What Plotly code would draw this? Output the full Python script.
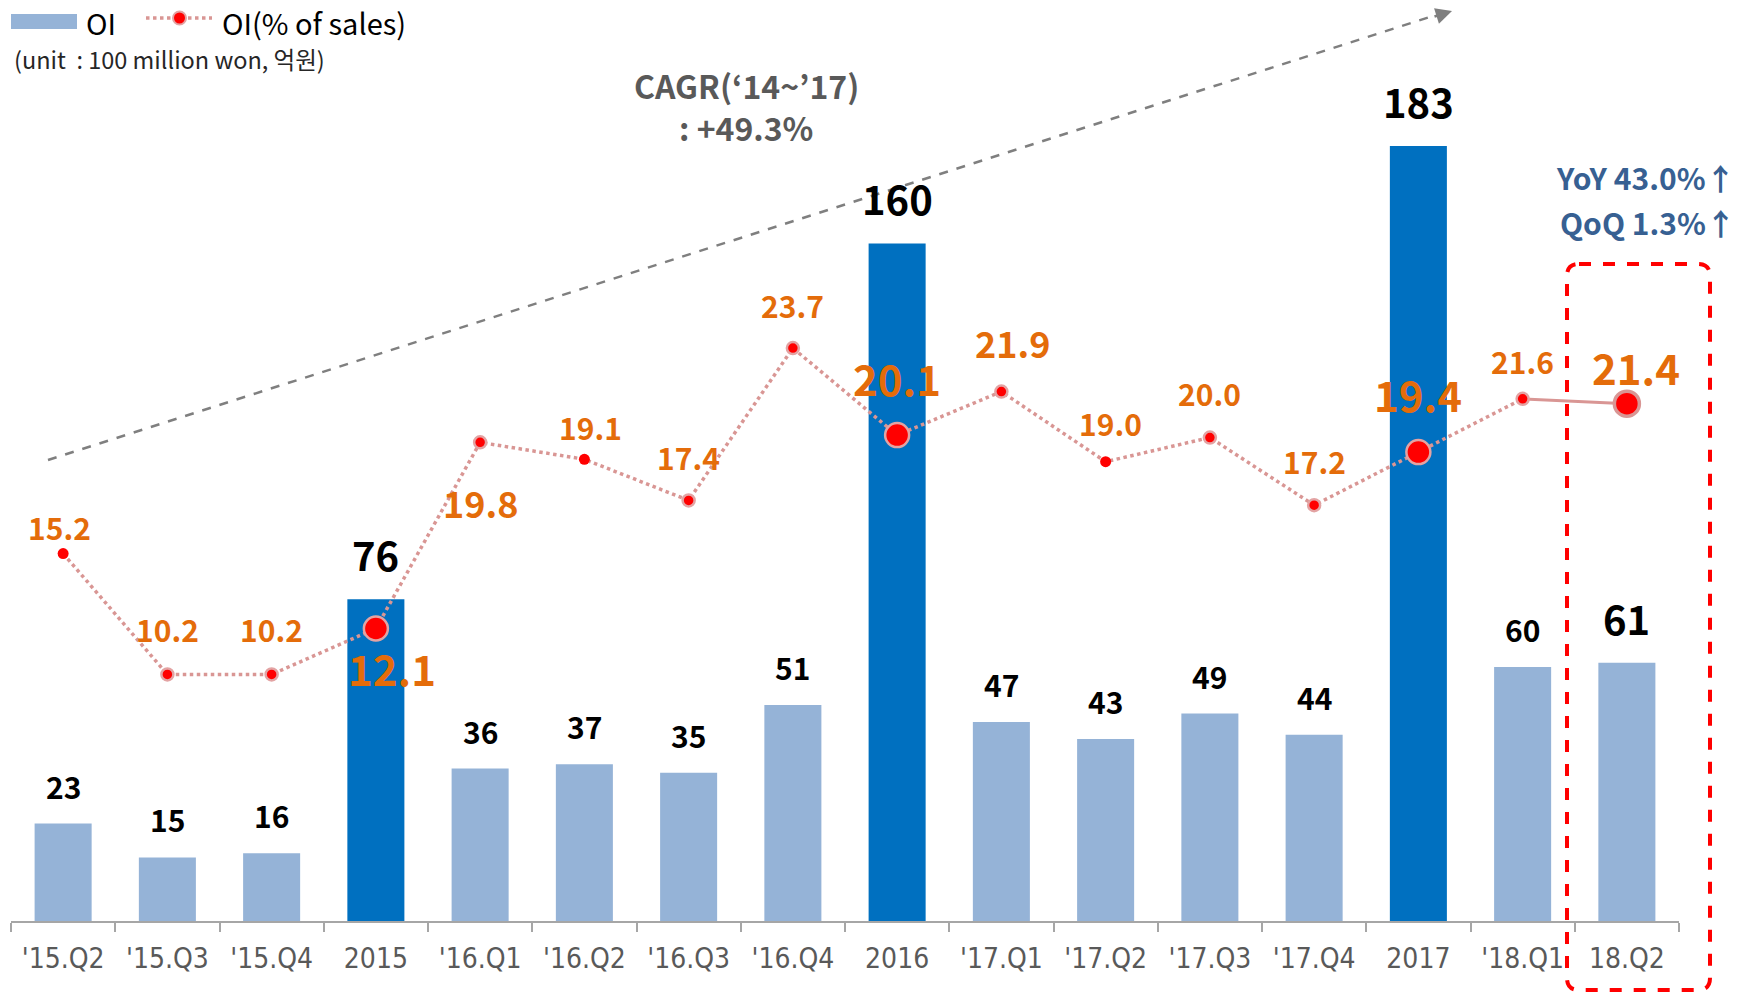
import plotly.graph_objects as go

# ---------------- data ----------------
categories = ["'15.Q2", "'15.Q3", "'15.Q4", "2015", "'16.Q1", "'16.Q2", "'16.Q3", "'16.Q4",
              "2016", "'17.Q1", "'17.Q2", "'17.Q3", "'17.Q4", "2017", "'18.Q1", "18.Q2"]
oi = [23, 15, 16, 76, 36, 37, 35, 51, 160, 47, 43, 49, 44, 183, 60, 61]
oi_pct = [15.2, 10.2, 10.2, 12.1, 19.8, 19.1, 17.4, 23.7, 20.1, 21.9, 19.0, 20.0, 17.2, 19.4, 21.6, 21.4]
annual = ["2015", "2016", "2017"]
plain_dot_points = ["'15.Q2", "'16.Q2", "'17.Q2"]
cagr_text = ["CAGR(‘14~’17)", ": +49.3%"]
growth_text = ["YoY 43.0%↑", "QoQ 1.3%↑"]
unit_text = "(unit\u00a0\u00a0: 100 million won, 억원)"
legend_names = ["OI", "OI(% of sales)"]

# ---------------- style ----------------
W, H = 1752, 994
L, R, T, B = 11, 73, 0, 73
PW, PH = W - L - R, H - T - B
FONT = "Noto Sans CJK KR, Noto Sans, DejaVu Sans, sans-serif"
NARROW = "Liberation Sans Narrow, DejaVu Sans Condensed, Noto Sans CJK KR, sans-serif"
LIGHT, DARK = "#95B3D7", "#0070C0"
ORANGE = "#E46C0A"
PINK = "#D99694"
RING = "#E3A3A3"
GRAY = "#595959"


def px(x):
    return (x - L) / PW


def py(y):
    return (T + PH - y) / PH


idx = list(range(len(categories)))
bar_colors = [DARK if c in annual else LIGHT for c in categories]

fig = go.Figure()
fig.add_trace(go.Bar(x=categories, y=oi, marker=dict(color=bar_colors, line=dict(width=0)),
                     name=legend_names[0], showlegend=False))

n_main = len(categories) - 1
# dotted line through quarters/years up to '18.Q1
fig.add_trace(go.Scatter(x=categories[:n_main], y=oi_pct[:n_main], yaxis="y2", mode="lines",
                         line=dict(color=PINK, width=3.5, dash="dot"), showlegend=False, hoverinfo="skip"))
# solid segment '18.Q1 -> 18.Q2
fig.add_trace(go.Scatter(x=categories[n_main - 1:], y=oi_pct[n_main - 1:], yaxis="y2", mode="lines",
                         line=dict(color=PINK, width=3), showlegend=False, hoverinfo="skip"))

groups = {"plain": ([], [], 11, 0), "ring": ([], [], 12, 2.5), "big": ([], [], 24, 2.5)}
for c, v in zip(categories[:n_main], oi_pct[:n_main]):
    key = "big" if c in annual else ("plain" if c in plain_dot_points else "ring")
    groups[key][0].append(c)
    groups[key][1].append(v)
for key, (xs, ys, sz, w) in groups.items():
    fig.add_trace(go.Scatter(x=xs, y=ys, yaxis="y2", mode="markers", opacity=1,
                             marker=dict(size=sz, color="#FF0000", opacity=1, line=dict(color=RING, width=w)),
                             name=legend_names[1], showlegend=False))
fig.add_trace(go.Scatter(x=categories[n_main:], y=oi_pct[n_main:], yaxis="y2", mode="markers", opacity=1,
                         marker=dict(size=25, color="#FF0000", opacity=1, line=dict(color=PINK, width=3.5)),
                         showlegend=False))

ann = []
# bar value labels
for i, c, v in zip(idx, categories, oi):
    big = c in annual or c == categories[-1]
    ann.append(dict(x=i, y=v, xref="x", yref="y", text=str(v), showarrow=False,
                    yanchor="middle", yshift=45 if big else 38,
                    font=dict(family=FONT, size=40 if big else 30, color="#000000", weight="bold")))

# percentage labels offsets (xshift, yshift) in px
pct_offsets = {"'15.Q2": (-4, 27), "'15.Q3": (0, 45), "'15.Q4": (0, 45), "2015": (16, -39),
               "'16.Q1": (0, -60), "'16.Q2": (6, 32), "'16.Q3": (0, 43), "'16.Q4": (0, 43),
               "2016": (0, 58), "'17.Q1": (11, 50), "'17.Q2": (5, 39), "'17.Q3": (0, 45),
               "'17.Q4": (0, 44), "2017": (0, 59), "'18.Q1": (0, 38), "18.Q2": (9, 37)}
pct_sizes = {"2015": 42, "2016": 42, "2017": 42, "18.Q2": 42, "'16.Q1": 36, "'17.Q1": 36}
for i, c, v in zip(idx, categories, oi_pct):
    dx, dy = pct_offsets[c]
    ann.append(dict(x=i, y=v, xref="x", yref="y2", text=f"{v:.1f}", showarrow=False,
                    yanchor="middle", xshift=dx, yshift=dy,
                    font=dict(family=FONT, size=pct_sizes.get(c, 30), color=ORANGE, weight="bold")))

# legend
LEG_Y = 22
ann.append(dict(x=px(84), y=py(LEG_Y), xref="paper", yref="paper", text=legend_names[0], showarrow=False,
                xanchor="left", yanchor="middle", font=dict(family=FONT, size=29, color="#000000")))
ann.append(dict(x=px(220), y=py(LEG_Y), xref="paper", yref="paper", text=legend_names[1], showarrow=False,
                xanchor="left", yanchor="middle", font=dict(family=FONT, size=29, color="#000000")))
ann.append(dict(x=px(12), y=py(59), xref="paper", yref="paper", text=unit_text, showarrow=False,
                xanchor="left", yanchor="middle", font=dict(family=FONT, size=23.5, color="#262626")))

# CAGR
for i, t in enumerate(cagr_text):
    ann.append(dict(x=px(746), y=py(85 + 42 * i), xref="paper", yref="paper", text=t,
                    showarrow=False, xanchor="center", yanchor="middle",
                    font=dict(family=FONT, size=32, color=GRAY, weight="bold")))
# YoY / QoQ
for i, t in enumerate(growth_text):
    ann.append(dict(x=px(1738), y=py(177 + 45 * i), xref="paper", yref="paper", text=t,
                    showarrow=False, xanchor="right", yanchor="middle",
                    font=dict(family=FONT, size=30, color="#376092", weight="bold")))

# arrow head
ann.append(dict(x=px(1452), y=py(11), xref="paper", yref="paper", text="", showarrow=True,
                ax=-19, ay=6, arrowhead=2, arrowsize=1.3, arrowwidth=2.5, arrowcolor="#7F7F7F", standoff=0))

shapes = []
shapes.append(dict(type="line", xref="paper", yref="paper", x0=px(48), y0=py(460), x1=px(1436), y1=py(15),
                   line=dict(color="#7F7F7F", width=2.5, dash="dash")))
# legend swatches
shapes.append(dict(type="rect", xref="paper", yref="paper", x0=px(11), x1=px(77), y0=py(LEG_Y + 7),
                   y1=py(LEG_Y - 8), fillcolor=LIGHT, line=dict(width=0)))
shapes.append(dict(type="line", xref="paper", yref="paper", x0=px(146), x1=px(212), y0=py(LEG_Y - 4),
                   y1=py(LEG_Y - 4), line=dict(color=PINK, width=3.5, dash="dot")))
shapes.append(dict(type="circle", xref="paper", yref="paper", x0=px(173), x1=px(186), y0=py(LEG_Y + 2.5),
                   y1=py(LEG_Y - 10.5), fillcolor="#FF0000", line=dict(color=RING, width=2)))

# red dashed rounded box
x0, x1, y0, y1 = 1567, 1710, 264, 990
r = 12
rx, ry = r / PW, r / PH
X0, X1, Y0, Y1 = px(x0), px(x1), py(y0), py(y1)
path = (f"M {X0 + rx},{Y0} L {X1 - rx},{Y0} Q {X1},{Y0} {X1},{Y0 - ry} "
        f"L {X1},{Y1 + ry} Q {X1},{Y1} {X1 - rx},{Y1} L {X0 + rx},{Y1} Q {X0},{Y1} {X0},{Y1 + ry} "
        f"L {X0},{Y0 - ry} Q {X0},{Y0} {X0 + rx},{Y0} Z")
shapes.append(dict(type="path", xref="paper", yref="paper", path=path,
                   line=dict(color="#FF0000", width=4, dash="dash"), fillcolor="rgba(0,0,0,0)"))

fig.update_layout(
    width=W, height=H, margin=dict(l=L, r=R, t=T, b=B, pad=0),
    paper_bgcolor="white", plot_bgcolor="white",
    bargap=0.453, showlegend=False,
    xaxis=dict(type="category", range=[-0.5, len(categories) - 0.5], tickson="boundaries",
               ticks="outside", ticklen=9, tickwidth=1.5, tickcolor="#A6A6A6",
               showline=True, linecolor="#A6A6A6", linewidth=1.5, showgrid=False, zeroline=False,
               tickfont=dict(family=NARROW, size=28, color=GRAY), ticklabelstandoff=12),
    yaxis=dict(range=[0, 217.5], visible=False, fixedrange=True),
    yaxis2=dict(range=[0, 38.1], overlaying="y", visible=False),
    annotations=ann, shapes=shapes,
)

fig.write_html("out.html", config={"displayModeBar": False},
               post_script="document.body.style.margin='0';")
